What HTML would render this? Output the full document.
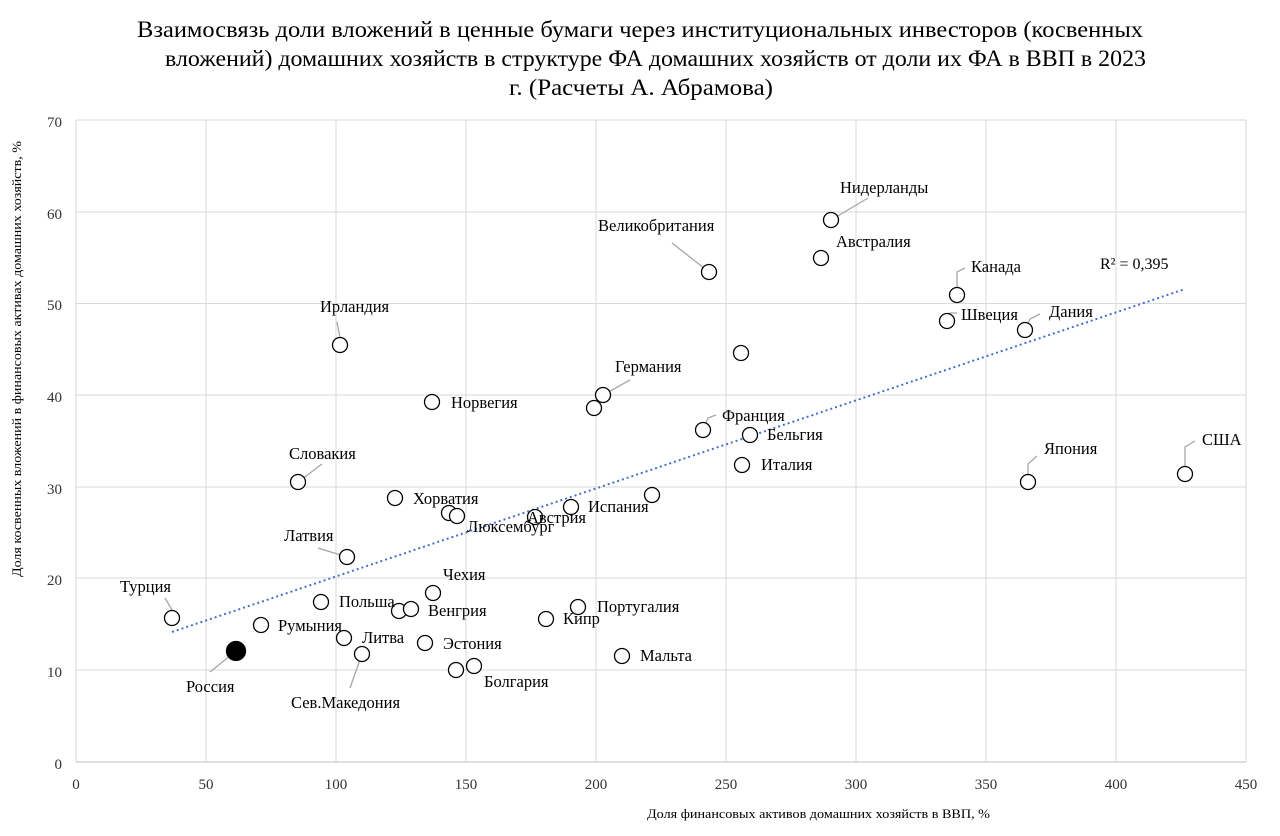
<!DOCTYPE html>
<html><head><meta charset="utf-8"><style>body{margin:0;background:#fff}svg{display:block}</style></head><body>
<svg width="1280" height="836" viewBox="0 0 1280 836" xmlns="http://www.w3.org/2000/svg" font-family="Liberation Serif, serif">
<rect width="1280" height="836" fill="#fff"/>
<g font-size="23" fill="#000">
<text x="137" y="37" textLength="1006" lengthAdjust="spacingAndGlyphs">Взаимосвязь  доли вложений в ценные бумаги через институциональных инвесторов (косвенных</text>
<text x="165" y="66" textLength="981" lengthAdjust="spacingAndGlyphs">вложений) домашних хозяйств  в структуре  ФА домашних хозяйств  от доли их ФА в ВВП в 2023</text>
<text x="509" y="95" textLength="264" lengthAdjust="spacingAndGlyphs">г. (Расчеты  А. Абрамова)</text>
</g>
<g stroke="#d9d9d9" stroke-width="1">
<line x1="76" y1="120" x2="1246" y2="120"/><line x1="76" y1="212" x2="1246" y2="212"/><line x1="76" y1="303.5" x2="1246" y2="303.5"/><line x1="76" y1="395" x2="1246" y2="395"/><line x1="76" y1="487" x2="1246" y2="487"/><line x1="76" y1="578" x2="1246" y2="578"/><line x1="76" y1="670" x2="1246" y2="670"/>
<line x1="76" y1="120" x2="76" y2="762"/><line x1="206" y1="120" x2="206" y2="762"/><line x1="336" y1="120" x2="336" y2="762"/><line x1="466" y1="120" x2="466" y2="762"/><line x1="596" y1="120" x2="596" y2="762"/><line x1="726" y1="120" x2="726" y2="762"/><line x1="856" y1="120" x2="856" y2="762"/><line x1="986" y1="120" x2="986" y2="762"/><line x1="1116" y1="120" x2="1116" y2="762"/><line x1="1246" y1="120" x2="1246" y2="762"/>
</g>
<line x1="76" y1="762" x2="1246" y2="762" stroke="#bfbfbf"/>
<g font-size="15" fill="#333" text-anchor="end">
<text x="62" y="127">70</text><text x="62" y="219">60</text><text x="62" y="310">50</text><text x="62" y="402">40</text><text x="62" y="494">30</text><text x="62" y="585">20</text><text x="62" y="677">10</text><text x="62" y="769">0</text>
</g>
<g font-size="15" fill="#333" text-anchor="middle">
<text x="76" y="789">0</text><text x="206" y="789">50</text><text x="336" y="789">100</text><text x="466" y="789">150</text><text x="596" y="789">200</text><text x="726" y="789">250</text><text x="856" y="789">300</text><text x="986" y="789">350</text><text x="1116" y="789">400</text><text x="1246" y="789">450</text>
</g>
<text x="647" y="818" font-size="13" textLength="343" lengthAdjust="spacingAndGlyphs">Доля финансовых активов домашних хозяйств в ВВП, %</text>
<text transform="translate(21,577) rotate(-90)" font-size="13" textLength="436" lengthAdjust="spacingAndGlyphs">Доля косвенных вложений в финансовых активах домашних хозяйств, %</text>
<line x1="172" y1="632" x2="1185" y2="289" stroke="#4472c4" stroke-width="2" stroke-dasharray="2,3"/>
<text x="1100" y="269" font-size="16">R² = 0,395</text>
<g stroke="#a6a6a6" stroke-width="1.3" fill="none">
<path d="M172,610 L165,598"/><path d="M236,651 L210,672"/><path d="M298,482 L322,464"/><path d="M347,557 L318,548"/><path d="M340,338 L337,322"/><path d="M362,654 L350,688"/><path d="M709,272 L672,243"/><path d="M831,220 L868,198"/><path d="M957,295 L957,272 L965,268"/><path d="M947,321 L950,313 L957,313"/><path d="M1025,330 L1030,319 L1040,314"/><path d="M1028,482 L1028,464 L1037,456"/><path d="M1185,474 L1185,447 L1195,441"/><path d="M603,395 L630,380"/><path d="M703,430 L708,418 L716,415"/>
</g>
<g fill="#fff" stroke="#000" stroke-width="1.3">
<circle cx="172" cy="618" r="7.5"/><circle cx="261" cy="625" r="7.5"/><circle cx="298" cy="482" r="7.5"/><circle cx="321" cy="602" r="7.5"/><circle cx="347" cy="557" r="7.5"/><circle cx="340" cy="345" r="7.5"/><circle cx="344" cy="638" r="7.5"/><circle cx="362" cy="654" r="7.5"/><circle cx="395" cy="498" r="7.5"/><circle cx="399" cy="611" r="7.5"/><circle cx="411" cy="609" r="7.5"/><circle cx="432" cy="402" r="7.5"/><circle cx="433" cy="593" r="7.5"/><circle cx="425" cy="643" r="7.5"/><circle cx="449" cy="513" r="7.5"/><circle cx="457" cy="516" r="7.5"/><circle cx="456" cy="670" r="7.5"/><circle cx="474" cy="666" r="7.5"/><circle cx="535" cy="517" r="7.5"/><circle cx="571" cy="507" r="7.5"/><circle cx="546" cy="619" r="7.5"/><circle cx="578" cy="607" r="7.5"/><circle cx="603" cy="395" r="7.5"/><circle cx="594" cy="408" r="7.5"/><circle cx="622" cy="656" r="7.5"/><circle cx="652" cy="495" r="7.5"/><circle cx="709" cy="272" r="7.5"/><circle cx="703" cy="430" r="7.5"/><circle cx="741" cy="353" r="7.5"/><circle cx="750" cy="435" r="7.5"/><circle cx="742" cy="465" r="7.5"/><circle cx="821" cy="258" r="7.5"/><circle cx="831" cy="220" r="7.5"/><circle cx="957" cy="295" r="7.5"/><circle cx="947" cy="321" r="7.5"/><circle cx="1025" cy="330" r="7.5"/><circle cx="1028" cy="482" r="7.5"/><circle cx="1185" cy="474" r="7.5"/>
<circle cx="236" cy="651" r="9.5" fill="#000"/>
</g>
<g font-size="16.5" fill="#000">
<text x="120" y="592">Турция</text><text x="186" y="692">Россия</text><text x="278" y="631">Румыния</text><text x="289" y="459">Словакия</text><text x="339" y="607">Польша</text><text x="284" y="541">Латвия</text><text x="320" y="312">Ирландия</text><text x="362" y="643">Литва</text><text x="291" y="708">Сев.Македония</text><text x="413" y="504">Хорватия</text><text x="428" y="616">Венгрия</text><text x="451" y="408">Норвегия</text><text x="443" y="580">Чехия</text><text x="443" y="649">Эстония</text><text x="467" y="532">Люксембург</text><text x="484" y="687">Болгария</text><text x="527" y="523">Австрия</text><text x="588" y="512">Испания</text><text x="563" y="624">Кипр</text><text x="597" y="612">Португалия</text><text x="615" y="372">Германия</text><text x="640" y="661">Мальта</text><text x="598" y="231">Великобритания</text><text x="722" y="421">Франция</text><text x="767" y="440">Бельгия</text><text x="761" y="470">Италия</text><text x="836" y="247">Австралия</text><text x="840" y="193">Нидерланды</text><text x="971" y="272">Канада</text><text x="961" y="320">Швеция</text><text x="1049" y="317">Дания</text><text x="1044" y="454">Япония</text><text x="1202" y="445">США</text>
</g>
</svg>
</body></html>
